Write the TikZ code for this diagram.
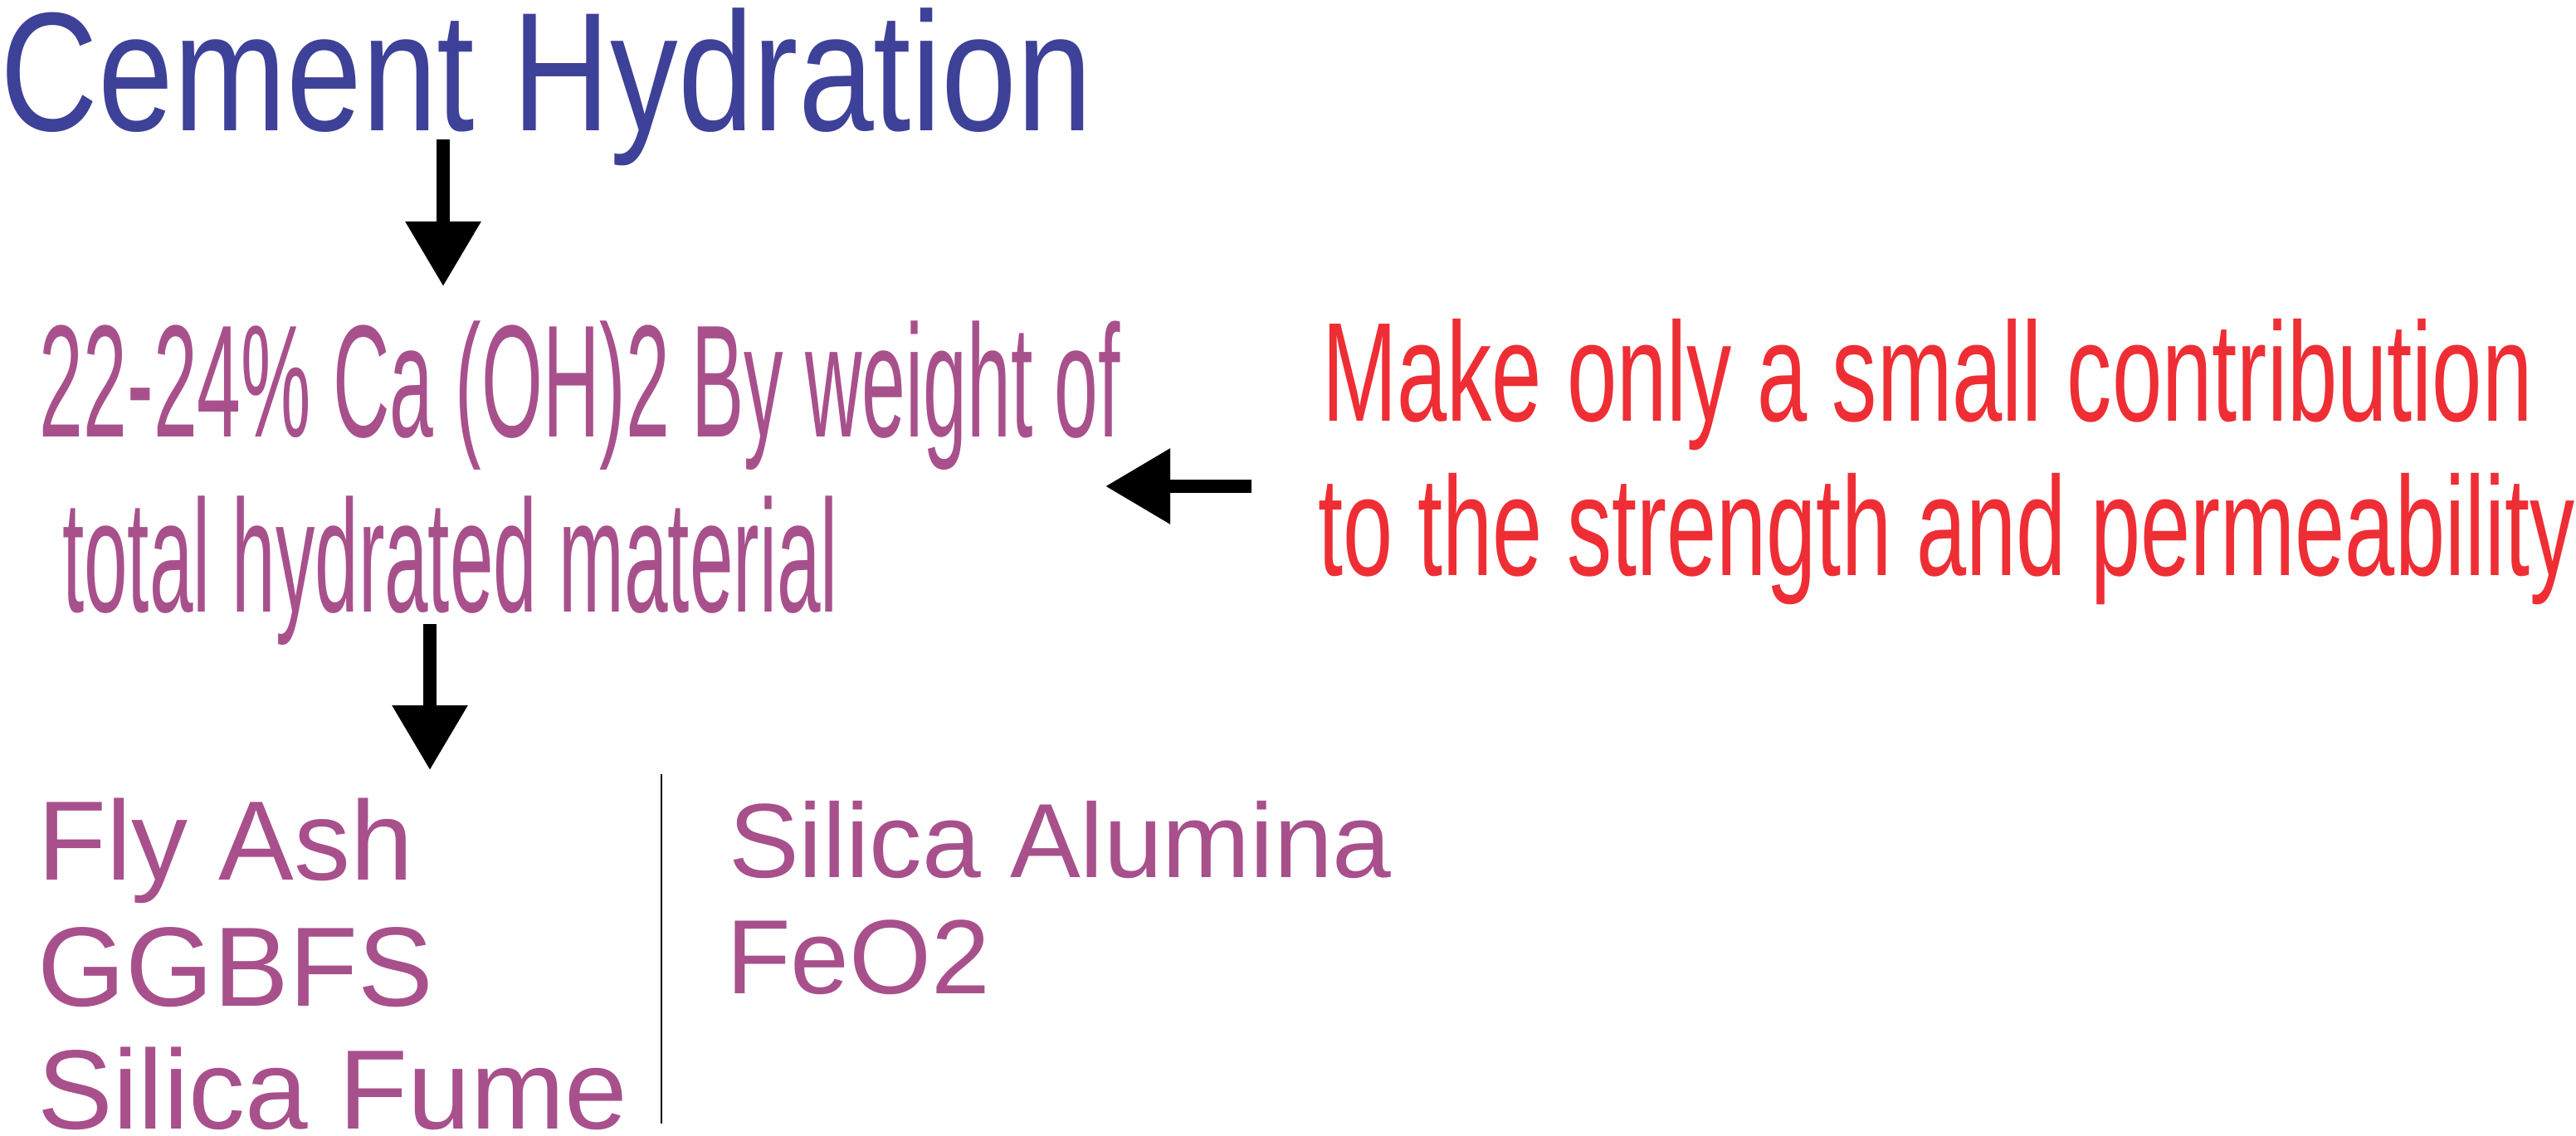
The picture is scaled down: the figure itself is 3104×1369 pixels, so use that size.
\documentclass[tikz,border=0pt]{standalone}
\usepackage{fontspec}
\setmainfont{Liberation Sans}
\usetikzlibrary{arrows.meta}
\definecolor{hblue}{HTML}{3E4198}
\definecolor{hpurple}{HTML}{A8508C}
\definecolor{hred}{HTML}{EE2E34}
\tikzset{
  txt/.style={anchor=base west, inner sep=0pt, outer sep=0pt},
  bigarrow/.style={line width=4pt, -{Triangle[width=21.75pt,length=19.5pt]}},
  sepline/.style={line width=0.5pt, draw=black},
}
\begin{document}
\begin{tikzpicture}[x=0.25pt,y=-0.25pt]
\useasboundingbox (0,0) rectangle (3104,1369);
% title
\node[txt, text=hblue] (title) at (1,158)
  {\fontsize{51pt}{60pt}\selectfont\scalebox{0.8}[1]{Cement Hydration}};
% Ca(OH)2 text
\node[txt, text=hpurple] (ca1) at (48,526)
  {\fontsize{48.2pt}{56pt}\selectfont\scalebox{0.492}[1]{22-24\% Ca (OH)2 By weight of}};
\node[txt, text=hpurple] (ca2) at (75,737)
  {\fontsize{48.2pt}{56pt}\selectfont\scalebox{0.49}[1]{total hydrated material}};
% red text
\node[txt, text=hred] (red1) at (1593,507)
  {\fontsize{42.5pt}{50pt}\selectfont\scalebox{0.638}[1]{Make only a small contribution}};
\node[txt, text=hred] (red2) at (1588,693)
  {\fontsize{42.5pt}{50pt}\selectfont\scalebox{0.636}[1]{to the strength and permeability}};
% bottom left list
\node[txt, text=hpurple] (fly) at (45,1060)
  {\fontsize{34pt}{40pt}\selectfont Fly Ash};
\node[txt, text=hpurple] (ggbfs) at (46,1212)
  {\fontsize{34pt}{40pt}\selectfont GGBFS};
\node[txt, text=hpurple] (fume) at (46,1360)
  {\fontsize{34pt}{40pt}\selectfont Silica Fume};
% bottom right list
\node[txt, text=hpurple] (alum) at (878,1057)
  {\fontsize{31.8pt}{38pt}\selectfont Silica Alumina};
\node[txt, text=hpurple] (feo) at (875,1197)
  {\fontsize{31.8pt}{38pt}\selectfont FeO2};
% arrow end points
\coordinate (a1s) at (534,168);
\coordinate (a1e) at (534,345);
\coordinate (a2s) at (518,752);
\coordinate (a2e) at (518,928);
\coordinate (a3s) at (1508,586);
\coordinate (a3e) at (1332,586);
\coordinate (ls) at (797,933);
\coordinate (le) at (797,1354);
\draw[bigarrow] (a1s) -- (a1e);
\draw[bigarrow] (a2s) -- (a2e);
\draw[bigarrow] (a3s) -- (a3e);
\draw[sepline] (ls) -- (le);
\end{tikzpicture}
\end{document}
